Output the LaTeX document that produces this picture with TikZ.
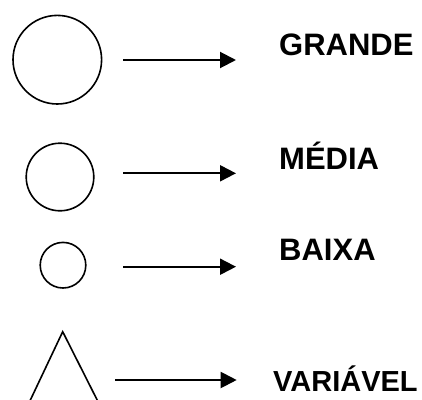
\documentclass[tikz,border=0pt]{standalone}
\usepackage{fontspec}
\setmainfont{Liberation Sans}
\usetikzlibrary{arrows.meta}
\begin{document}
\begin{tikzpicture}[x=1pt,y=1pt,
  ring/.style={draw,circle,line width=1.6pt,inner sep=0pt},
  arr/.style={line width=2pt,-{Triangle[length=16pt,width=16pt]}},
  lbl/.style={anchor=base west,inner sep=0pt,font=\fontsize{31}{31}\selectfont\bfseries}]
\useasboundingbox (0,0) rectangle (422,-399);
\clip (0,0) rectangle (422,-399);
% circles
\node[ring,minimum size=88.6pt] (g) at (57.3,-59.7) {};
\node[ring,minimum size=67.6pt] (m) at (60,-177) {};
\node[ring,minimum size=45.6pt] (b) at (63,-265.2) {};
% triangle
\draw[line width=1.6pt,line join=miter] (28,-405) coordinate (t1) -- (62.7,-331.7) coordinate (tv) -- (99.7,-405) coordinate (t2);
% labels
\node[lbl] (lg) at (279,-55) {GRANDE};
\node[lbl] (lm) at (279,-169.3) {MÉDIA};
\node[lbl] (lb) at (279,-260) {BAIXA};
\node[lbl,font=\fontsize{29}{29}\selectfont\bfseries] (lv) at (273,-391.7) {VARIÁVEL};
% arrows
\coordinate (a1s) at (123,-60);   \coordinate (a1e) at (236,-60);
\coordinate (a2s) at (123,-173.3);\coordinate (a2e) at (236,-173.3);
\coordinate (a3s) at (123,-266.7);\coordinate (a3e) at (236,-266.7);
\coordinate (a4s) at (115,-380);  \coordinate (a4e) at (236.7,-380);
\draw[arr] (a1s) -- (a1e);
\draw[arr] (a2s) -- (a2e);
\draw[arr] (a3s) -- (a3e);
\draw[arr] (a4s) -- (a4e);
\end{tikzpicture}
\end{document}
